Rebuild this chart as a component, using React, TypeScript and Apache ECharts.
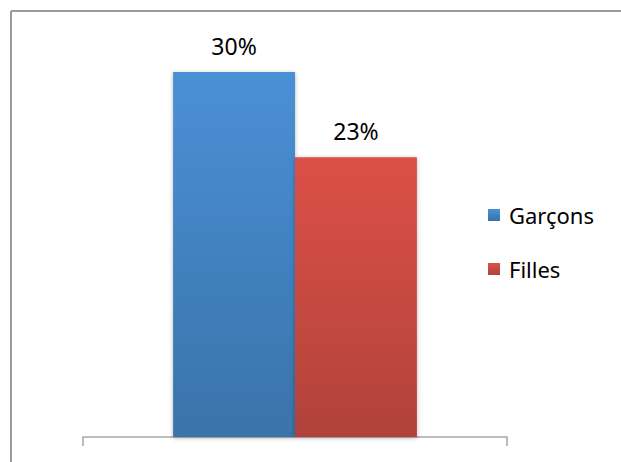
import React, { useEffect, useRef } from "react";
import * as echarts from "echarts";

const categories = [""];
const seriesNames = ["Garçons", "Filles"];
const garconsValues = [30];
const fillesValues = [23];

export default function App() {
  const ref = useRef<HTMLDivElement>(null);
  useEffect(() => {
    if (!ref.current) return;
    const chart = echarts.init(ref.current, undefined, { renderer: "svg" });
    const font = "'Noto Sans', 'Open Sans', sans-serif";
    const label = {
      show: true,
      position: "top" as const,
      distance: 15,
      formatter: (p: any) => p.value + "%",
      fontSize: 23,
      color: "#000",
      fontFamily: font,
    };
    chart.setOption({
      animation: false,
      backgroundColor: "#fff",
      graphic: [
        { type: "line", shape: { x1: 11, y1: 11, x2: 621, y2: 11 }, style: { stroke: "#9a9a9a", lineWidth: 2 } },
        { type: "line", shape: { x1: 11, y1: 11, x2: 11, y2: 462 }, style: { stroke: "#9a9a9a", lineWidth: 2 } },
      ],
      grid: { left: 83, right: 114, top: 72, bottom: 25, containLabel: false },
      legend: {
        orient: "vertical",
        left: 488,
        top: 204,
        padding: 0,
        itemWidth: 12,
        itemHeight: 12,
        itemGap: 32,
        icon: "rect",
        textStyle: { fontSize: 22, lineHeight: 22, color: "#000", fontFamily: font, padding: [0, 0, 0, 4] },
        data: seriesNames,
      },
      xAxis: {
        type: "category",
        data: categories,
        axisLine: { lineStyle: { color: "#a6a6a6", width: 1.5 } },
        axisTick: { show: true, length: 9, lineStyle: { color: "#a6a6a6", width: 1.5 } },
        axisLabel: { show: false },
      },
      yAxis: {
        type: "value",
        min: 0,
        max: 30,
        show: false,
        splitLine: { show: false },
      },
      series: [
        {
          name: seriesNames[0],
          type: "bar",
          data: garconsValues,
          barGap: "0%",
          barCategoryGap: "42.5%",
          label,
          itemStyle: {
            color: new echarts.graphic.LinearGradient(0, 0, 0, 1, [
              { offset: 0, color: "#4a90d6" },
              { offset: 1, color: "#3a73a9" },
            ]),
            shadowColor: "rgba(0,0,0,0.3)",
            shadowBlur: 4,
            shadowOffsetY: 1,
          },
        },
        {
          name: seriesNames[1],
          type: "bar",
          data: fillesValues,
          barGap: "0%",
          barCategoryGap: "42.5%",
          label,
          itemStyle: {
            color: new echarts.graphic.LinearGradient(0, 0, 0, 1, [
              { offset: 0, color: "#dc5147" },
              { offset: 1, color: "#b0423a" },
            ]),
            shadowColor: "rgba(0,0,0,0.3)",
            shadowBlur: 4,
            shadowOffsetY: 1,
          },
        },
      ],
    });
    return () => chart.dispose();
  }, []);
  return (
    <div
      ref={ref}
      style={{ position: "fixed", left: 0, top: 0, width: 621, height: 462 }}
    />
  );
}
